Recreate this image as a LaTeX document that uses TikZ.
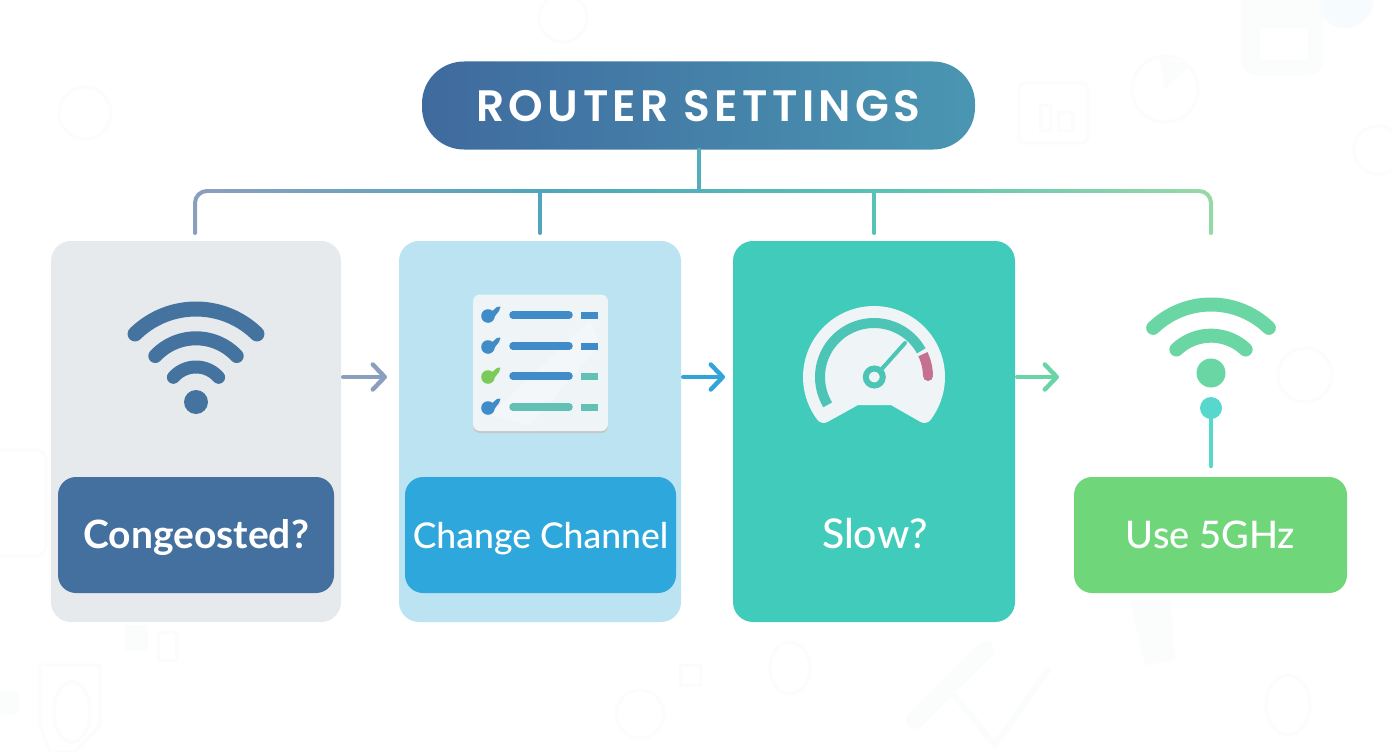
\documentclass[tikz,border=0pt]{standalone}
\usepackage{fontspec}
\setmainfont{Lato}
\newfontfamily\titlefont[LetterSpace=10]{Poppins SemiBold}
\newfontfamily\lblfont{Lato Medium}
\usetikzlibrary{calc,arrows.meta}
\definecolor{ttlL}{HTML}{3F6A9E}
\definecolor{ttlR}{HTML}{4A96B2}
\definecolor{barA}{HTML}{8A9FBE}
\definecolor{barB}{HTML}{4FA6BC}
\definecolor{barC}{HTML}{58C2B4}
\definecolor{barD}{HTML}{96D8A8}
\definecolor{cardA}{HTML}{E6EAED}
\definecolor{cardB}{HTML}{BBE3F1}
\definecolor{cardC}{HTML}{40CBBB}
\definecolor{lblA}{HTML}{44709F}
\definecolor{lblB}{HTML}{2EA8DC}
\definecolor{lblD}{HTML}{6FD77A}
\definecolor{wifiA}{HTML}{44739F}
\definecolor{wifiD}{HTML}{6AD6A4}
\definecolor{tealD}{HTML}{58D8CC}
\definecolor{chkB}{HTML}{3F8CC8}
\definecolor{chkG}{HTML}{7CCB5A}
\definecolor{chkT}{HTML}{62C0B4}
\definecolor{paper}{HTML}{EFF4F6}
\definecolor{gaugeBand}{HTML}{4CC4B6}
\definecolor{gaugeRed}{HTML}{C4708E}
\definecolor{ghost}{HTML}{FBFCFC}
\definecolor{ghostB}{HTML}{F6FBFD}
\tikzset{
  cardbox/.style={rounded corners=20pt,minimum height=381pt,inner sep=0pt},
  lblbox/.style={rounded corners=18pt,minimum height=116pt,inner sep=0pt,text=white,
     text height=29pt,text depth=3pt},
  stub/.style={line width=4pt,line cap=round},
  flow/.style={line width=4.4pt,line cap=round,-{Straight Barb[length=12pt,width=25pt,round,line width=4.4pt]}},
  wave/.style={line width=#1,line cap=round},
  ghostl/.style={draw=ghost,line width=3pt},
  bigbar/.style={line width=7.5pt,line cap=round},
  smallbar/.style={line width=7pt}
}
\begin{document}
\begin{tikzpicture}[x=1pt,y=-1pt]
\useasboundingbox (0,0) rectangle (1392,752);
\fill[white] (0,0) rectangle (1392,752);
% faint background icons
\fill[ghostB] (1345,0) circle (28);
\draw[ghostl,fill=ghost,rounded corners=14pt] (1243,-10) rectangle (1322,74);
\fill[white,rounded corners=6pt] (1260,28) rectangle (1308,60);
\draw[ghostl] (1165,89) circle (33);
\fill[ghost] (1165,89) -- (1160,56) -- (1190,66) -- cycle;
\draw[ghostl,rounded corners=5pt] (1019,83) rectangle (1088,143);
\draw[ghostl] (1040,105) rectangle (1050,130) (1058,112) rectangle (1072,130);
\draw[ghostl] (85,113) circle (26);
\draw[ghostl] (563,18) circle (24);
\draw[ghostl] (1305,375) circle (27);
\draw[ghostl,rounded corners=10pt] (-12,450) rectangle (46,556);
\fill[ghost,rounded corners=6pt] (-10,690) rectangle (18,715);
\draw[ghostl] (40,665) -- (100,665) -- (100,725) -- (75,752) -- (50,752) -- (40,725) -- cycle;
\draw[ghostl] (72,712) ellipse (18 and 30);
\fill[ghost] (125,625) rectangle (148,650);
\draw[ghostl] (158,632) rectangle (176,660);
\draw[ghostl] (640,714) circle (24);
\draw[ghostl] (680,665) rectangle (700,685);
\draw[ghostl] (790,668) ellipse (20 and 26);
\draw[ghost,line width=18pt,line cap=round] (915,720) -- (985,650);
\draw[ghost,line width=6pt,line cap=round] (950,690) -- (995,745) -- (1048,670);
\draw[ghostl] (1288,705) ellipse (22 and 30);
\fill[ghost] (1130,600) -- (1170,600) -- (1175,660) -- (1145,665) -- cycle;
\draw[ghostl] (1378,150) circle (24);
% title
\node[rounded corners=42pt,minimum width=553pt,minimum height=88pt,inner sep=0pt,
      left color=ttlL,right color=ttlR,text=white,text height=33pt,text depth=1pt] (title) at (698.5,105.5)
      {\titlefont\fontsize{44}{48}\selectfont ROUTER SETTINGS};
% cards
\node[cardbox,minimum width=290pt,fill=cardA] (c1) at (196,431.5) {};
\node[cardbox,minimum width=282pt,fill=cardB] (c2) at (540,431.5) {};
\node[cardbox,minimum width=282pt,fill=cardC] (c3) at (874,431.5) {};
% labels
\node[lblbox,minimum width=276pt,fill=lblA,font=\fontsize{39}{42}\selectfont\bfseries] (l1) at (196,535) {Congeosted?};
\node[lblbox,minimum width=271pt,fill=lblB,font=\fontsize{35.5}{40}\selectfont\lblfont] (l2) at (540.5,535) {Change Channel};
\node[lblbox,minimum width=271pt,fill=cardC,font=\fontsize{41}{44}\selectfont\lblfont] (l3) at (875,535) {Slow?};
\node[lblbox,minimum width=273pt,fill=lblD,font=\fontsize{38}{42}\selectfont\lblfont] (l4) at (1210.5,535) {Use 5GHz};
% tree
\coordinate (jA) at (195,191);
\coordinate (jAe) at (207,191);
\coordinate (jB) at (540,191);
\coordinate (jC) at (874,191);
\coordinate (jD) at (1211,191);
\coordinate (jDe) at (1199,191);
\coordinate (endA) at (195,233);
\coordinate (endB) at (540,233);
\coordinate (endC) at (874,233);
\coordinate (endD) at (1211,233);
\coordinate (stem) at (699,191);
\foreach \i in {0,...,59}{
  \pgfmathsetmacro\p{\i*100/60}
  \draw[line width=4pt,color=barB!\p!barA] ($(jAe)!\i/60!(jB)$) -- ($(jAe)!\i/60+0.02!(jB)$);
  \draw[line width=4pt,color=barC!\p!barB] ($(jB)!\i/60!(jC)$) -- ($(jB)!\i/60+0.02!(jC)$);
  \draw[line width=4pt,color=barD!\p!barC] ($(jC)!\i/60!(jDe)$) -- ($(jC)!\i/60+0.02!(jDe)$);
}
\draw[stub,barA,rounded corners=12pt] (endA) -- (jA) -- (jAe);
\draw[stub,barD,rounded corners=12pt] (endD) -- (jD) -- (jDe);
\draw[stub,barB] (jB) -- (endB);
\draw[stub,barC] (jC) -- (endC);
\draw[stub,barB!70!barC] (title.south -| stem) -- (stem);
% flow arrows
\coordinate (tipA) at (387,377);
\coordinate (tipB) at (725,377);
\coordinate (tipC) at (1059,377);
\draw[flow,color=barA,shorten <=2pt] (c1.east |- tipA) -- (tipA);
\draw[flow,color=lblB!85!chkB,shorten <=2pt] (c2.east |- tipB) -- (tipB);
\draw[flow,color=wifiD!90!chkT,shorten <=2pt] (c3.east |- tipC) -- (tipC);
% wifi 1
\draw[wave=15pt,wifiA] plot[domain=45.5:134.5,samples=40] ({196+87*cos(\x)},{396-87*sin(\x)});
\draw[wave=14pt,wifiA] plot[domain=43:137,samples=40] ({196+55.7*cos(\x)},{394-55.7*sin(\x)});
\draw[wave=13pt,wifiA] plot[domain=41:139,samples=40] ({196+30*cos(\x)},{397-30*sin(\x)});
\fill[wifiA] (196,402) circle (12);
% checklist
\fill[black!22,rounded corners=7pt] (473,297) rectangle (608,433);
\fill[paper,rounded corners=7pt] (473,294.5) rectangle (608,431);
\fill[white,opacity=.35] (490,415) -- (590,320) -- (600,345) -- (530,425) -- cycle;
\foreach \y/\ck/\bb/\sb in {315/chkB/chkB/chkB,346/chkB/chkB/chkB,376/chkG/chkB/chkT,407/chkB/chkT/chkT}{
  \fill[\ck] (488,\y+1) circle (6.8);
  \fill[\ck] (483,\y-2.5) -- (491,\y-3) -- (497,\y-8) -- (500.5,\y-8.5) -- (499,\y-4) -- (492,\y+5) -- cycle;
  \draw[bigbar,\bb] (513,\y) -- (569,\y);
  \draw[smallbar,\sb] (581,\y) -- (597.5,\y);
}
% gauge
\filldraw[paper,line width=16pt,line join=round]
   plot[domain=217:-37,samples=60] ({874+63*cos(\x)},{377-63*sin(\x)})
   -- (893,397) -- (856,397) -- cycle;
\draw[line width=10pt,gaugeBand] plot[domain=211:29,samples=50] ({874+54*cos(\x)},{377-54*sin(\x)});
\draw[line width=10pt,gaugeRed] plot[domain=25:2,samples=20] ({874+54*cos(\x)},{377-54*sin(\x)});
\fill[gaugeRed] (928,376) circle (5);
\draw[line width=4pt,line cap=round,gaugeBand] (880,371) -- (905,343);
\draw[line width=6pt,gaugeBand,fill=paper] (874.3,377) circle (8.5);
% wifi 4
\draw[wave=14pt,wifiD] plot[domain=46:134,samples=40] ({1211+83.3*cos(\x)},{387.8-83.3*sin(\x)});
\draw[wave=14pt,wifiD] plot[domain=46.5:133.5,samples=40] ({1211+50.3*cos(\x)},{386-50.3*sin(\x)});
\fill[wifiD] (1211,373) circle (14.5);
\draw[line width=4.5pt,line cap=round,tealD] (1211,408) -- (1211,466);
\fill[tealD] (1211,408) circle (11);
\end{tikzpicture}
\end{document}
